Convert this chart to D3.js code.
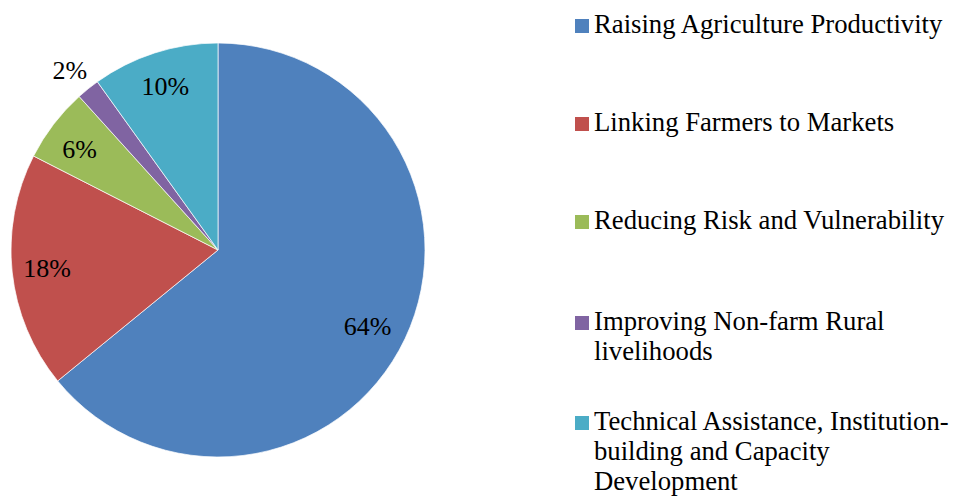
<!DOCTYPE html>
<html><head><meta charset="utf-8">
<script src="https://cdn.jsdelivr.net/npm/d3@7"></script>
<style>body{margin:0;background:#fff;}svg{display:block;}</style>
</head><body>
<svg id="c" width="955" height="498"></svg>
<script>
const categories = ["Raising Agriculture Productivity","Linking Farmers to Markets","Reducing Risk and Vulnerability","Improving Non-farm Rural livelihoods","Technical Assistance, Institution-building and Capacity Development"];
const values = [64.1, 18.4, 5.8, 1.8, 9.9];
const labels = ["64%","18%","6%","2%","10%"];
const legendLines = [["Raising Agriculture Productivity"],["Linking Farmers to Markets"],["Reducing Risk and Vulnerability"],["Improving Non-farm Rural","livelihoods"],["Technical Assistance, Institution-","building and Capacity","Development"]];
const colors = ["#4F81BD","#C0504D","#9BBB59","#8064A2","#4BACC6"];

const svg = d3.select("#c");
const font = "'Liberation Serif','Times New Roman',serif";
const cx = 218, cy = 250, R = 207;
const pie = d3.pie().sort(null).value(d => d)(values);
const arc = d3.arc().innerRadius(0).outerRadius(R);
const g = svg.append("g").attr("transform", `translate(${cx},${cy})`);
g.selectAll("path").data(pie).join("path")
  .attr("d", arc).attr("fill", (d,i) => colors[i])
  .attr("stroke", "#fff").attr("stroke-width", 0.7);

const labelR = [0.81, 0.83, 0.83, 1.14, 0.83];
const labelDx = [-2, 0, -2, 0, 0];
const labelDy = [5, 0, 4, 4, 0];
g.selectAll("text").data(pie).join("text")
  .attr("transform", (d,i) => {
    const a = d3.arc().innerRadius(R*labelR[i]).outerRadius(R*labelR[i]);
    const [x,y] = a.centroid(d);
    return `translate(${x + labelDx[i]},${y + labelDy[i]})`;
  })
  .attr("text-anchor","middle").attr("dominant-baseline","central")
  .style("font-family", font).style("font-size","26px").attr("fill","#000")
  .text((d,i) => labels[i]);

const lg = svg.append("g");
const itemTop = [33, 131, 229, 330, 430];
const lineH = 30;
legendLines.forEach((lines, i) => {
  const gi = lg.append("g").attr("transform", `translate(575,${itemTop[i]})`);
  gi.append("rect").attr("x",0).attr("y",-14).attr("width",14).attr("height",14).attr("fill",colors[i]);
  lines.forEach((t, j) => {
    gi.append("text").attr("x",19).attr("y", j*lineH)
      .style("font-family", font).style("font-size","26.7px").attr("fill","#000").text(t);
  });
});
</script>
</body></html>
